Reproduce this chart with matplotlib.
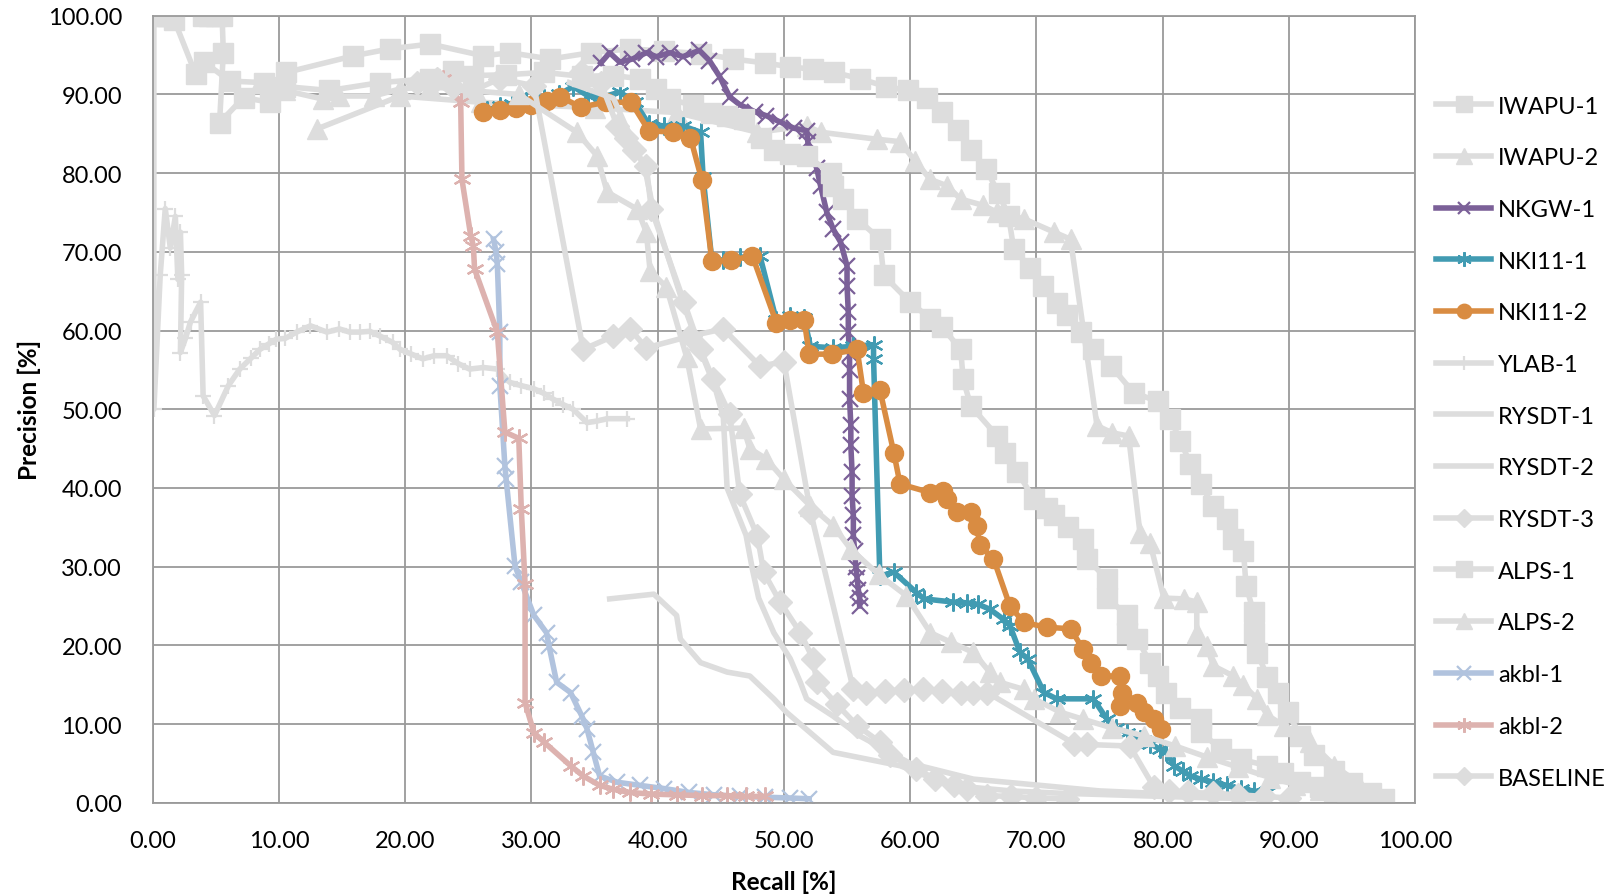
import matplotlib
matplotlib.use("Agg")
import matplotlib.pyplot as plt
from matplotlib.ticker import FormatStrFormatter

plt.rcParams["font.family"] = ["Lato", "DejaVu Sans"]

GRAY = "#DDDDDD"

# ---- data (recall %, precision %) ----
iwapu1_x = [4, 4.5, 5, 5.5, 5.6, 5.3, 7.2, 9.3, 10.6, 15.9, 18.8, 22.0, 26.2, 28.3, 31.5, 34.7,
            37.8, 40.5, 43.4, 46, 48.5, 50.5, 52.3, 54, 56, 58.1, 59.8, 61.3, 62.5, 63.8, 64.8,
            66, 67, 67.8, 68.2, 69.5, 70.5, 71.6, 72.4, 73.5, 74.5, 75.9, 77.7, 79.6, 80.6,
            81.4, 82.2, 83.0, 84.0, 85.1, 85.6, 86.4, 86.6, 87.2, 87.2, 87.5, 88.3, 89.1, 89.9,
            90.9, 92, 93.6, 95, 96.5, 97.5]
iwapu1_y = [100, 100, 100, 100, 95.3, 86.4, 89.6, 89.0, 92.8, 94.9, 95.8, 96.4, 94.9, 95.3, 94.5,
            95.3, 95.8, 95.5, 95.2, 94.5, 94.0, 93.5, 93.2, 92.8, 92.0, 91.0, 90.5, 89.5, 87.8,
            85.5, 83.0, 80.5, 77.5, 74.5, 70.4, 68.0, 65.6, 63.5, 62.0, 59.8, 57.6, 55.5, 52.1,
            51.0, 48.8, 46.0, 43.0, 40.5, 37.7, 36.0, 33.5, 32.0, 27.6, 24.2, 21.6, 19.0, 16.0,
            14.0, 11.5, 8.5, 6.0, 4.0, 2.5, 1.2, 0.5]

iwapu2_x = [13.0, 19.6, 26, 35, 41.5, 47.9, 51.8, 52.9, 57.4, 59.2, 60.4, 61.6, 62.9, 64.0, 65.8,
            66.9, 69.0, 71.4, 72.7, 74.8, 76.0, 77.3, 78.2, 79.0, 80.1, 81.7, 82.7, 82.7, 83.5,
            84.0, 85.6, 86.4, 87.5, 88.3, 89.6, 91.7, 93.6, 95.5, 97.5]
iwapu2_y = [85.6, 89.8, 89.0, 88.3, 87.7, 85.2, 86.0, 85.2, 84.3, 84.0, 81.5, 79.2, 78.4, 76.7,
            75.9, 75.0, 74.2, 72.5, 71.6, 47.9, 47.0, 46.6, 34.3, 33.0, 26.0, 25.9, 25.5, 21.6,
            19.9, 17.4, 16.1, 14.9, 13.2, 11.1, 9.8, 7.7, 4.7, 2.5, 0.5]

nkgw1_x = [35.5, 36.2, 37.0, 38.0, 39.1, 39.9, 41.0, 42.0, 43.3, 44.1, 44.9, 45.7, 46.5, 47.7,
           48.6, 49.7, 50.8, 51.8, 51.9, 52.6, 52.9, 53.4, 53.9, 54.5, 55.0, 55.0,
           55.1, 55.1, 55.2, 55.2, 55.2, 55.3, 55.3, 55.4, 55.4, 55.5, 55.5, 55.6, 55.7, 55.8,
           55.9, 56.0, 56.0]
nkgw1_y = [94.0, 95.3, 94.1, 94.5, 95.3, 94.8, 95.3, 94.8, 95.6, 94.3, 92.3, 89.7, 88.7, 87.8,
           87.3, 86.5, 85.7, 85.4, 83.9, 80.6, 78.4, 75.0, 72.9, 71.2, 68.2, 65.7,
           62.3, 59.8, 57.0, 55.0, 51.3, 48.0, 45.4, 42.0, 39.0, 36.5, 34.0, 32.0, 30.0, 28.5,
           27.0, 26.0, 25.0]

nki111_x = [26.5, 27.5, 28.5, 29.6, 31.0, 32.2, 33.3, 34.5, 35.5, 37.0, 38.2, 39.3, 40.5, 42.0,
            43.4, 43.6, 44.3, 45.2, 46.5, 48.1, 49.4, 50.5, 51.6, 52.1, 53.9, 55.5, 57.1, 57.1,
            57.6, 58.7, 60.5, 61.1, 63.4, 64.5, 65.4, 66.3, 67.4, 67.9, 68.7, 69.3, 70.6, 71.6,
            74.5, 75.6, 76.3, 77.2, 78.2, 79.0, 79.8, 80.3, 80.9, 81.6, 82.2, 83.0, 84.0, 85.1,
            86.2, 87.2, 88.3]
nki111_y = [88.0, 88.5, 88.8, 89.2, 89.5, 90.0, 91.0, 89.8, 89.6, 90.3, 89.0, 86.2, 86.0, 86.0,
            85.2, 79.5, 68.8, 69.0, 69.3, 69.5, 61.3, 61.8, 61.6, 58.0, 57.8, 58.0, 58.2, 56.4,
            28.8, 29.3, 26.7, 25.9, 25.5, 25.4, 25.2, 24.6, 23.3, 22.5, 19.1, 18.3, 14.0, 13.2,
            13.2, 10.6, 9.5, 8.9, 8.1, 7.5, 6.8, 6.4, 4.7, 4.0, 3.4, 3.0, 2.6, 2.2, 1.7, 1.5, 1.3]

nki112_x = [26.2, 27.5, 28.8, 30.0, 31.2, 32.3, 33.9, 35.9, 37.9, 39.3, 41.2, 42.6, 43.5, 44.3,
            45.8, 47.5, 49.4, 50.5, 51.6, 52.0, 53.8, 55.8, 56.3, 57.6, 58.7, 59.2, 61.6, 62.6,
            62.9, 63.7, 64.8, 65.3, 65.5, 66.6, 67.9, 69.0, 70.8, 72.7, 73.7, 74.3, 75.1, 76.6,
            76.8, 76.6, 78.0, 78.5, 79.3, 79.9]
nki112_y = [87.8, 88.0, 88.3, 88.7, 89.2, 89.7, 88.4, 89.0, 89.0, 85.4, 85.2, 84.5, 79.1, 68.8,
            68.9, 69.5, 61.0, 61.4, 61.4, 57.0, 57.0, 57.6, 52.1, 52.5, 44.5, 40.5, 39.4, 39.6,
            38.6, 36.9, 36.9, 35.2, 32.7, 31.0, 25.0, 22.9, 22.3, 22.1, 19.5, 17.8, 16.1, 16.1,
            14.0, 12.3, 12.7, 11.5, 10.6, 9.4]

ylab1_x = [0.1, 0.1, 0.6, 1.0, 1.4, 1.8, 2.0, 2.2, 2.3, 2.2, 2.6, 3.0, 3.8, 4.0, 4.9, 6.0, 6.9,
           7.8, 8.5, 9.2, 9.8, 10.5, 11.4, 12.5, 13.8, 14.8, 15.6, 16.4, 17.2, 18.0, 19.0, 19.6,
           20.5, 21.4, 22.3, 23.3, 24.2, 25.1, 26.2, 27.3, 28.3, 29.2, 30.2, 31.0, 31.7, 32.5,
           33.3, 34.4, 35.2, 36.0, 37.6]
ylab1_y = [100, 50.0, 67.0, 75.5, 70.5, 74.5, 66.5, 72.5, 67.0, 57.2, 59.0, 61.1, 63.6, 51.7,
           49.2, 53.0, 55.1, 56.5, 57.6, 58.3, 58.9, 59.0, 59.8, 60.6, 59.8, 60.2, 59.8, 59.8,
           59.9, 59.3, 58.5, 57.6, 57.0, 56.4, 56.8, 56.8, 55.8, 55.1, 55.3, 55.1, 53.4, 53.0,
           52.6, 52.0, 51.3, 50.6, 50.0, 48.3, 48.5, 48.8, 48.8]

rysdt1_x = [36.2, 39.7, 41.5, 41.8, 43.4, 45.5, 47.3, 49.2, 50.2, 53.9, 59.2, 63.2, 68, 72, 76,
            80, 84, 88]
rysdt1_y = [25.9, 26.5, 23.8, 20.8, 17.8, 16.6, 16.1, 13.2, 11.5, 6.4, 4.7, 2.2, 1.5, 1.2, 1.0,
            0.8, 0.6, 0.5]

rysdt2_x = [33.0, 36.5, 39.0, 39.7, 42.0, 43.5, 44.5, 45.2, 45.5, 47.0, 47.5, 48.0, 49.2, 50.5,
            51.3, 51.8, 53.9, 56.0, 60.0, 65.0, 75.0, 85.0]
rysdt2_y = [91.5, 89.5, 80.5, 75.0, 63.5, 57.0, 53.0, 49.0, 40.0, 34.0, 29.7, 26.0, 21.6, 18.3,
            15.3, 13.2, 11.0, 8.5, 5.0, 3.0, 1.5, 0.8]

rysdt3_x = [33.9, 35.5, 36.8, 37.5, 38.1, 39.1, 39.5, 42.1, 43.4, 44.4, 45.7, 46.5, 47.9, 48.4,
            49.7, 51.3, 52.3, 52.6, 54.2, 55.8, 57.6, 58.4, 60.5, 62.0, 63.5, 64.5, 66.1, 68.0,
            70.0, 72.4]
rysdt3_y = [92.8, 91.5, 86.0, 84.5, 83.0, 80.9, 75.4, 63.6, 57.6, 53.8, 49.4, 39.2, 33.9, 29.3,
            25.5, 21.6, 18.3, 15.3, 12.5, 9.8, 7.7, 6.0, 4.3, 3.0, 2.2, 1.7, 0.9, 0.8, 0.6, 0.5]

alps1_x = [0.2, 0.7, 1.2, 1.7, 3.4, 4.1, 6.1, 8.8, 10.5, 14, 18, 22, 23.8, 25.4, 28, 31, 34, 36.5,
           38.6, 39.9, 41.0, 42.8, 44.2, 45.5, 46.8, 48.2, 49.2, 50.5, 51.8, 53.7, 53.9, 54.7,
           55.8, 57.6, 57.9, 60.0, 61.6, 62.5, 64.0, 64.2, 64.8, 66.9, 67.5, 68.5, 69.8, 70.8,
           71.4, 72.5, 73.7, 74.0, 75.6, 75.6, 77.2, 77.2, 78.0, 79.0, 79.6, 80.3, 81.4, 83.0,
           83.0, 84.6, 86.2, 88.3, 89.5, 90.9, 92.5, 93.6, 95.0, 96.2]
alps1_y = [100, 100, 100, 99.5, 92.6, 94.1, 91.7, 91.5, 91.0, 90.5, 91.5, 92.0, 93.0, 92.4, 92.5,
           92.8, 92.3, 92.4, 92.0, 90.7, 89.4, 88.6, 87.7, 87.3, 86.9, 84.5, 83.0, 82.4, 82.2,
           80.0, 78.4, 76.7, 74.2, 71.6, 67.0, 63.6, 61.5, 60.5, 57.6, 53.8, 50.4, 46.6, 44.5,
           42.0, 38.6, 37.5, 36.5, 35.0, 33.5, 31.0, 28.4, 26.0, 23.8, 21.6, 20.8, 17.8, 16.1,
           14.0, 12.0, 10.6, 9.0, 6.8, 5.5, 4.7, 3.8, 2.6, 2.0, 1.5, 1.2, 1.0]

alps2_x = [8.5, 10.5, 13.5, 14.8, 17.5, 19.6, 22, 25, 29, 33.6, 35.2, 36.0, 38.4, 39.1, 39.4,
           40.7, 42.3, 43.4, 46.8, 47.3, 48.6, 50.0, 52.1, 53.9, 55.3, 57.5, 59.7, 61.6, 63.2,
           65.0, 66.3, 67.1, 69.0, 69.8, 71.9, 73.7, 76, 78.5, 81, 83.5, 86, 88.5, 90.5, 92.5,
           94.5, 96]
alps2_y = [91.5, 90.5, 89.4, 89.8, 89.8, 90.7, 91.0, 90.5, 90.0, 85.2, 82.2, 77.6, 75.4, 72.5,
           67.6, 65.5, 56.6, 47.5, 47.6, 45.0, 43.7, 41.1, 37.7, 35.2, 32.2, 29, 26.3, 21.6, 20.4,
           19.1, 16.6, 15.3, 14.4, 13.2, 11.5, 10.6, 9.5, 8.5, 7.2, 5.8, 4.5, 3.2, 2.3, 1.6, 1.0,
           0.5]

akbl1_x = [27.0, 27.2, 27.3, 27.5, 27.5, 27.9, 28.0, 28.7, 29.2, 30.2, 31.2, 31.4, 32.0, 33.1,
           34.0, 34.4, 34.9, 35.4, 36.8, 38.6, 40.5, 42.5, 44.5, 46.5, 48.5, 50.5, 52.0]
akbl1_y = [71.6, 70.0, 68.5, 59.8, 53.0, 42.8, 41.1, 30.1, 28.0, 23.8, 21.6, 19.9, 15.3, 14.0,
           11.0, 9.4, 6.4, 3.4, 2.6, 2.2, 1.8, 1.3, 1.0, 0.8, 0.7, 0.6, 0.5]

akbl2_x = [23.0, 24.4, 24.5, 25.2, 25.4, 25.5, 27.3, 27.9, 29.0, 29.2, 29.5, 29.5, 30.2, 31.0,
           33.1, 34.1, 35.4, 36.5, 37.8, 39.5, 41.5, 43.5, 45.5, 47.0, 48.5]
akbl2_y = [92.0, 89.0, 79.2, 72.0, 70.8, 67.8, 59.8, 47.1, 46.3, 37.3, 27.8, 12.7, 8.9, 7.7, 4.7,
           3.4, 2.2, 1.7, 1.3, 1.1, 1.0, 0.9, 0.9, 0.8, 0.8]

baseline_x = [20.9, 22.5, 23.8, 25.4, 27.5, 30.2, 34.1, 36.5, 37.8, 39.1, 42.6, 45.2, 48.1, 50.0,
              52.1, 55.5, 56.5, 58.0, 59.5, 61.0, 62.5, 64.0, 65.0, 66.1, 73.0, 74.0, 77.4, 79.3,
              80.5, 82.0, 84.0, 86.0, 88.0, 90.0]
baseline_y = [91.5, 92.0, 91.0, 90.5, 92.0, 91.1, 57.6, 59.3, 60.2, 57.8, 59.3, 60.2, 55.5, 56.0,
              37.0, 14.4, 14.0, 14.2, 14.3, 14.4, 14.2, 14.0, 14.0, 14.0, 7.5, 7.4, 7.2, 2.0, 1.5,
              1.3, 1.2, 1.0, 0.8, 0.6]

# name, x, y, color, marker, markersize
series = [
    ("IWAPU-1", iwapu1_x, iwapu1_y, GRAY, "s", 14),
    ("IWAPU-2", iwapu2_x, iwapu2_y, GRAY, "^", 15),
    ("NKGW-1", nkgw1_x, nkgw1_y, "#7B6098", "x", 11),
    ("NKI11-1", nki111_x, nki111_y, "#419BB2", (6, 2, 0), 13),
    ("NKI11-2", nki112_x, nki112_y, "#D98C42", "o", 13),
    ("YLAB-1", ylab1_x, ylab1_y, GRAY, "+", 12),
    ("RYSDT-1", rysdt1_x, rysdt1_y, GRAY, None, 0),
    ("RYSDT-2", rysdt2_x, rysdt2_y, GRAY, None, 0),
    ("RYSDT-3", rysdt3_x, rysdt3_y, GRAY, "D", 12),
    ("ALPS-1", alps1_x, alps1_y, GRAY, "s", 14),
    ("ALPS-2", alps2_x, alps2_y, GRAY, "^", 15),
    ("akbl-1", akbl1_x, akbl1_y, "#B1C3DE", "x", 12),
    ("akbl-2", akbl2_x, akbl2_y, "#DDB2AF", (6, 2, 0), 13),
    ("BASELINE", baseline_x, baseline_y, GRAY, "D", 12),
]

fig = plt.figure(figsize=(16.1, 8.95), dpi=100)
ax = fig.add_axes([0.0948, 0.102, 0.7842, 0.8793])

for name, xs, ys, col, mk, ms in series:
    mew = 1.6 if mk in ("x", "+") or isinstance(mk, tuple) else 1
    ax.plot(xs, ys, color=col, lw=4, marker=mk, ms=ms, mfc=col, mec=col,
            mew=mew, label=name, solid_joinstyle="round")

ax.set_xlim(0, 100)
ax.set_ylim(0, 100)
ax.set_xticks(range(0, 101, 10))
ax.set_yticks(range(0, 101, 10))
ax.xaxis.set_major_formatter(FormatStrFormatter("%.2f"))
ax.yaxis.set_major_formatter(FormatStrFormatter("%.2f"))
ax.tick_params(length=0, labelsize=17, colors="black")
ax.tick_params(axis="y", pad=22)
ax.tick_params(axis="x", pad=20)
ax.grid(True, color="#9A9A9A", lw=1.3)
ax.set_axisbelow(True)
for sp in ax.spines.values():
    sp.set_color("#9A9A9A")
    sp.set_linewidth(1.3)

ax.set_xlabel("Recall [%]", fontsize=17.5, fontweight="bold", labelpad=13)
ax.set_ylabel("Precision [%]", fontsize=17.5, fontweight="bold", labelpad=5)

fig.legend(loc="center left", bbox_to_anchor=(0.879, 0.505), frameon=False,
           fontsize=17, labelspacing=1.3, handlelength=2.3, handletextpad=0.3,
           markerscale=0.8)

fig.savefig("out.png", dpi=100)
